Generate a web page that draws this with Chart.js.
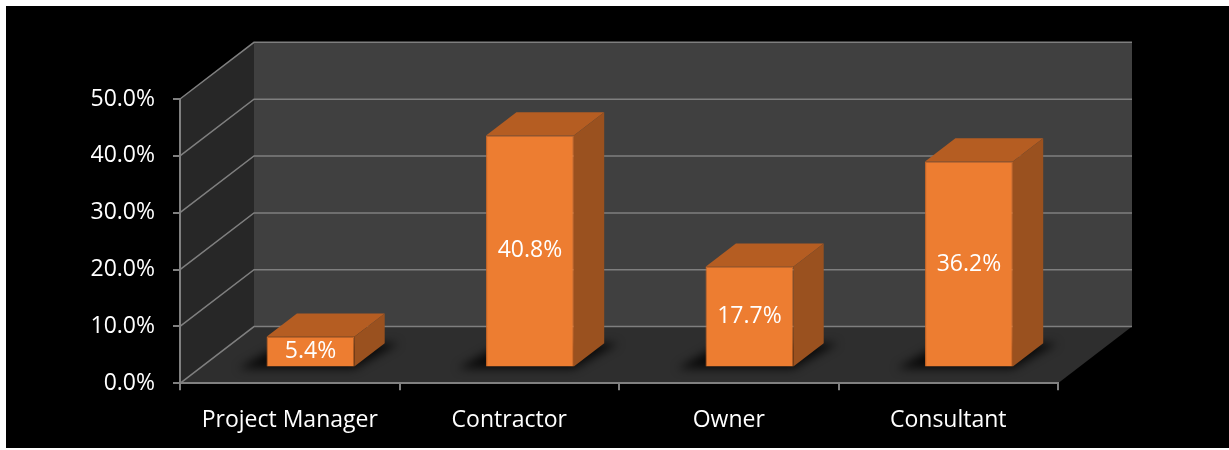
<!DOCTYPE html>
<html>
<head>
<meta charset="utf-8">
<title>Respondent roles</title>
<script src="https://cdn.jsdelivr.net/npm/chart.js@4/dist/chart.umd.min.js"></script>
<style>
  html, body { margin: 0; padding: 0; background: #fff; }
  #wrap { position: absolute; left: 6px; top: 6px; width: 1223px; height: 442px; background: #000; }
</style>
</head>
<body>
<div id="wrap"><canvas id="chart" width="1223" height="442"></canvas></div>
<script>
// data
const categories = ['Project Manager', 'Contractor', 'Owner', 'Consultant'];
const shares = [5.4, 40.8, 17.7, 36.2];
const yTickValues = [0, 10, 20, 30, 40, 50];

// 3d look: how far the back wall sits from the front plane, and where the bars sit in that depth
const DEPTH = { dx: 74, dy: -56.7 };
const BAR_FRONT = 0.28;
const BAR_BACK = 0.69;

const COLORS = {
  backWall: '#404040',
  sideWall: '#272727',
  floor: '#2e2e2e',
  grid: '#7f7f7f',
  barFront: '#ED7D31',
  barTop: '#B55D22',
  barSide: '#9A511F'
};

function fillPoly(ctx, pts, color) {
  ctx.beginPath();
  ctx.moveTo(pts[0][0], pts[0][1]);
  for (let i = 1; i < pts.length; i++) ctx.lineTo(pts[i][0], pts[i][1]);
  ctx.closePath();
  ctx.fillStyle = color;
  ctx.fill();
}

const box3d = {
  id: 'box3d',

  // walls, floor and the receding grid lines
  beforeDraw(chart) {
    const { ctx, chartArea: a } = chart;
    const y = chart.scales.y;
    const dx = DEPTH.dx, dy = DEPTH.dy;
    ctx.save();
    fillPoly(ctx, [[a.left + dx, a.top + dy], [a.right + dx, a.top + dy], [a.right + dx, a.bottom + dy], [a.left + dx, a.bottom + dy]], COLORS.backWall);
    fillPoly(ctx, [[a.left, a.top], [a.left + dx, a.top + dy], [a.left + dx, a.bottom + dy], [a.left, a.bottom]], COLORS.sideWall);
    fillPoly(ctx, [[a.left, a.bottom], [a.right, a.bottom], [a.right + dx, a.bottom + dy], [a.left + dx, a.bottom + dy]], COLORS.floor);

    ctx.strokeStyle = COLORS.grid;
    ctx.lineWidth = 1.5;
    y.ticks.forEach(t => {
      const py = y.getPixelForValue(t.value);
      ctx.beginPath();
      ctx.moveTo(a.left, py);
      ctx.lineTo(a.left + dx, py + dy);
      ctx.lineTo(a.right + dx, py + dy);
      ctx.stroke();
    });
    ctx.restore();
  },

  // floor shadows, then top and side faces; the front face is the bar itself
  beforeDatasetsDraw(chart) {
    const { ctx, chartArea: a } = chart;
    const meta = chart.getDatasetMeta(0);
    const fx = DEPTH.dx * BAR_FRONT, fy = DEPTH.dy * BAR_FRONT;
    const d = BAR_BACK - BAR_FRONT;
    const sx = DEPTH.dx * d, sy = DEPTH.dy * d;

    const boxes = meta.data.map(bar => {
      const p = bar.getProps(['x', 'y', 'base', 'width'], true);
      return {
        l: p.x - p.width / 2 + fx,
        r: p.x + p.width / 2 + fx,
        t: p.y + fy,
        b: p.base + fy
      };
    });

    ctx.save();
    ctx.beginPath();
    ctx.moveTo(a.left, a.bottom);
    ctx.lineTo(a.right, a.bottom);
    ctx.lineTo(a.right + DEPTH.dx, a.bottom + DEPTH.dy);
    ctx.lineTo(a.left + DEPTH.dx, a.bottom + DEPTH.dy);
    ctx.closePath();
    ctx.clip();
    ctx.filter = 'blur(5px)';
    boxes.forEach(bx => {
      fillPoly(ctx, [[bx.l - 28, bx.b + 2], [bx.r, bx.b + 2], [bx.r + sx + 14, bx.b + sy], [bx.l + sx - 14, bx.b + sy]], 'rgba(0,0,0,0.8)');
    });
    ctx.restore();

    ctx.save();
    boxes.forEach(bx => {
      fillPoly(ctx, [[bx.l, bx.t], [bx.r, bx.t], [bx.r + sx, bx.t + sy], [bx.l + sx, bx.t + sy]], COLORS.barTop);
      fillPoly(ctx, [[bx.r, bx.t], [bx.r + sx, bx.t + sy], [bx.r + sx, bx.b + sy], [bx.r, bx.b]], COLORS.barSide);
    });
    ctx.restore();

    // push the front faces back to their depth
    ctx.save();
    ctx.translate(fx, fy);
  },

  afterDatasetsDraw(chart) {
    const { ctx } = chart;
    ctx.restore();

    const meta = chart.getDatasetMeta(0);
    const fx = DEPTH.dx * BAR_FRONT, fy = DEPTH.dy * BAR_FRONT;
    ctx.save();
    ctx.fillStyle = '#fff';
    ctx.font = '23px "Open Sans"';
    ctx.textAlign = 'center';
    ctx.textBaseline = 'middle';
    meta.data.forEach((bar, i) => {
      const p = bar.getProps(['x', 'y', 'base'], true);
      ctx.fillText(shares[i].toFixed(1) + '%', p.x + fx, (p.y + p.base) / 2 + fy);
    });
    ctx.restore();
  }
};

Chart.defaults.font.family = '"Open Sans", sans-serif';
Chart.defaults.font.size = 23;
Chart.defaults.color = '#fff';

new Chart(document.getElementById('chart'), {
  type: 'bar',
  data: {
    labels: categories,
    datasets: [{
      data: shares,
      backgroundColor: COLORS.barFront,
      borderColor: '#D46A24',
      borderWidth: 1,
      barPercentage: 0.4,
      categoryPercentage: 1,
      clip: false
    }]
  },
  options: {
    responsive: false,
    animation: false,
    layout: { padding: { top: 93, right: 171, left: 0, bottom: 0 } },
    plugins: {
      legend: { display: false },
      tooltip: { enabled: false }
    },
    scales: {
      x: {
        grid: { drawOnChartArea: false, drawTicks: true, tickLength: 7, color: '#808080', lineWidth: 2, offset: true },
        border: { display: true, color: '#808080', width: 2 },
        ticks: { color: '#fff', padding: 16, maxRotation: 0 },
        afterFit(scale) { scale.height = 64.7; }
      },
      y: {
        min: 0,
        max: 50,
        afterBuildTicks(scale) { scale.ticks = yTickValues.map(v => ({ value: v })); },
        grid: { drawOnChartArea: false, drawTicks: true, tickLength: 7, color: '#808080', lineWidth: 2 },
        border: { display: true, color: '#808080', width: 2 },
        ticks: { color: '#fff', padding: 18, callback: v => v.toFixed(1) + '%' },
        afterFit(scale) { scale.width = 174; }
      }
    }
  },
  plugins: [box3d]
});
</script>
</body>
</html>
